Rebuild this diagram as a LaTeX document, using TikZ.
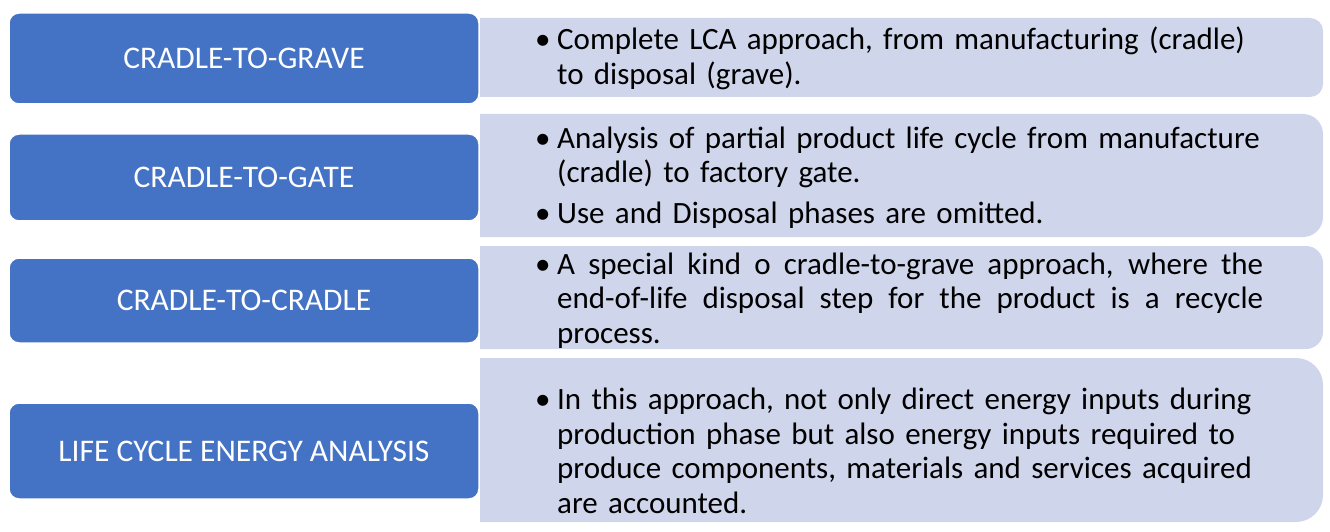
\documentclass[tikz,border=0pt]{standalone}
\usepackage{fontspec}
\setmainfont{Carlito}
\definecolor{bluebox}{HTML}{4472C4}
\definecolor{lavbox}{HTML}{CFD5EA}
\hyphenpenalty=10000
\exhyphenpenalty=10000
\newcommand{\bitem}[1]{\noindent\hangindent=22pt\hangafter=1\makebox[22pt][l]{\textbullet}#1\par}
\begin{document}
\begin{tikzpicture}[x=1pt,y=1pt,
  headbox/.style={fill=bluebox,draw=white,line width=1.5pt,rounded corners=10pt,
    minimum width=470pt,inner sep=0pt,text=white,font=\fontsize{31.5}{36}\selectfont},
  descbox/.style={anchor=west,inner sep=0pt,text width=760pt,text=black,
    font=\fontsize{31}{34.5}\selectfont},
  lav/.style={fill=lavbox}]
\useasboundingbox (0,0) rectangle (1330,531);
% right description backgrounds (square left, rounded right)
\newcommand{\rbox}[3]{\fill[lav] (480,#1) -- (1323-#3,#1) arc[start angle=90,end angle=0,radius=#3] -- (1323,#2+#3) arc[start angle=0,end angle=-90,radius=#3] -- (480,#2) -- cycle;}
\rbox{513}{434}{13}
\rbox{417}{294}{20}
\rbox{285}{182}{17}
\rbox{173}{9}{27}
% left heading boxes
\node[headbox,minimum height=91pt] (h1) at (244,472.5) {CRADLE-TO-GRAVE};
\node[headbox,minimum height=87pt] (h2) at (244,353.5) {CRADLE-TO-GATE};
\node[headbox,minimum height=85pt] (h3) at (244,230.5) {CRADLE-TO-CRADLE};
\node[headbox,minimum height=96pt] (h4) at (244,80) {LIFE CYCLE ENERGY ANALYSIS};
% descriptions
\node[descbox,align=left] (d1) at (535,472.5) {\bitem{Complete LCA approach, from manufacturing (cradle)\newline to disposal (grave).}};
\node[descbox,align=left] (d2) at (535,353.5) {\bitem{Analysis of partial product life cycle from manufacture\newline (cradle) to factory gate.}\vspace{6pt}\bitem{Use and Disposal phases are omitted.}};
\node[descbox,align=justify,text width=728pt] (d3) at (535,230.5) {\bitem{A special kind o cradle-to-grave approach, where the\linebreak end-of-life disposal step for the product is a recycle\linebreak process.}};
\node[descbox,align=left] (d4) at (535,80) {\bitem{In this approach, not only direct energy inputs during\newline production phase but also energy inputs required to\newline produce components, materials and services acquired\newline are accounted.}};
\end{tikzpicture}
\end{document}
